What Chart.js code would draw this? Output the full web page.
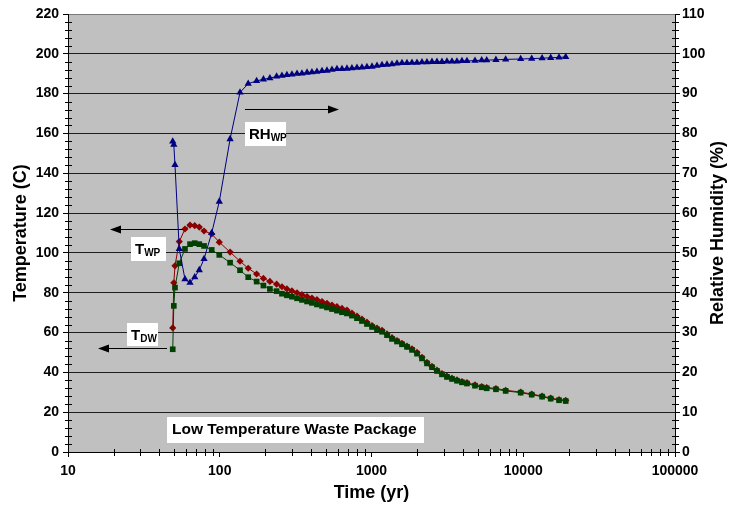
<!DOCTYPE html>
<html>
<head>
<meta charset="utf-8">
<title>Low Temperature Waste Package</title>
<script src="https://cdn.jsdelivr.net/npm/chart.js@4.4.0/dist/chart.umd.min.js"></script>
<style>
  html, body { margin: 0; padding: 0; background: #fff; }
  #chart { display: block; }
</style>
</head>
<body>
<canvas id="chart" width="729" height="508"></canvas>
<script>
// time after emplacement (yr), shared by all three series
const years = [
  49.0, 49.8, 50.7, 54.1, 59.0, 63.7, 68.4, 73.3, 78.8, 88.5,
  99.3, 117, 136, 154, 175, 194, 214, 237, 257, 277,
  299, 323, 348, 376, 405, 437, 472, 509, 549, 592,
  639, 689, 743, 802, 865, 933, 1008, 1087, 1173, 1265,
  1365, 1472, 1588, 1713, 1848, 1994, 2151, 2320, 2503, 2700,
  2913, 3142, 3390, 3657, 3945, 4256, 4808, 5322, 5743, 6607,
  7657, 9617, 11370, 13310, 15170, 17210, 19050
];

// waste package temperature (C)
const tempWP = [
  62.3, 85, 93.5, 105.7, 112, 114, 113.7, 113, 111, 109.5,
  105.4, 100.4, 95.8, 92.3, 89.4, 87.2, 85.7, 84.3, 83.0, 81.9,
  80.9, 80.0, 79.0, 78.1, 77.3, 76.5, 75.6, 74.7, 73.8, 73.0,
  72.1, 71.3, 69.8, 68.3, 66.8, 65.2, 63.5, 62.2, 61.1, 59.3,
  57.4, 56.0, 54.6, 53.2, 51.8, 50.0, 47.6, 45.0, 43.0, 41.1,
  39.4, 38.1, 37.1, 36.2, 35.4, 34.8, 33.7, 32.9, 32.4, 31.9,
  31.0, 30.1, 29.1, 28.1, 27.1, 26.3, 25.9
];

// drift wall temperature (C)
const tempDW = [
  51.6, 73.4, 82.6, 94.8, 102, 104.4, 104.9, 104.4, 103.5, 101.5,
  99, 95.1, 91.3, 87.8, 85.6, 83.6, 81.9, 80.8, 79.5, 78.7,
  78.0, 77.2, 76.4, 75.6, 74.9, 74.1, 73.4, 72.6, 71.8, 71.0,
  70.2, 69.6, 68.5, 67.2, 65.8, 64.3, 62.8, 61.6, 60.4, 58.7,
  56.8, 55.5, 54.1, 52.8, 51.3, 49.4, 47.0, 44.5, 42.6, 40.7,
  39.0, 37.7, 36.7, 35.8, 35.0, 34.4, 33.3, 32.5, 32.0, 31.5,
  30.7, 29.8, 28.8, 27.8, 26.8, 26.0, 25.6
];

// relative humidity at the waste package (%)
const rhWP = [
  78.0, 77.2, 72.1, 51, 43.4, 42.5, 43.9, 45.7, 48.5, 55,
  62.9, 78.6, 90.3, 92.5, 93.2, 93.6, 93.9, 94.3, 94.5, 94.7,
  94.8, 95.0, 95.1, 95.3, 95.4, 95.5, 95.7, 95.8, 96.0, 96.2,
  96.2, 96.3, 96.4, 96.5, 96.6, 96.7, 96.8, 97.0, 97.2, 97.3,
  97.4, 97.6, 97.7, 97.7, 97.8, 97.8, 97.9, 97.9, 98.0, 98.0,
  98.0, 98.1, 98.1, 98.1, 98.2, 98.2, 98.3, 98.4, 98.4, 98.5,
  98.6, 98.7, 98.8, 98.9, 99.0, 99.1, 99.2
];

const timeTicks = [10, 100, 1000, 10000, 100000];

const FONT = "Arial, 'Liberation Sans', sans-serif";

function toPoints(values) {
  return years.map((t, i) => ({ x: t, y: values[i] }));
}

// grey plot area on a white page
const paperPlugin = {
  id: "paper",
  beforeDraw(chart) {
    const { ctx, chartArea: a } = chart;
    ctx.save();
    ctx.fillStyle = "#ffffff";
    ctx.fillRect(0, 0, chart.width, chart.height);
    ctx.fillStyle = "#c0c0c0";
    ctx.fillRect(a.left, a.top, a.right - a.left, a.bottom - a.top);
    ctx.restore();
  },
};

// small cross ticks between the labelled ones
const minorTickPlugin = {
  id: "minorTicks",
  afterDraw(chart) {
    const { ctx, chartArea: a, scales } = chart;
    ctx.save();
    ctx.strokeStyle = "#000";
    ctx.lineWidth = 1;
    ctx.beginPath();
    for (let d = 10; d < 100000; d *= 10) {
      for (let k = 2; k <= 9; k++) {
        const x = Math.round(scales.x.getPixelForValue(k * d)) + 0.5;
        ctx.moveTo(x, a.bottom - 3);
        ctx.lineTo(x, a.bottom + 4);
      }
    }
    for (let v = 4; v < 220; v += 4) {
      if (v % 20 === 0) continue;
      const y = Math.round(scales.y.getPixelForValue(v)) + 0.5;
      ctx.moveTo(a.left - 3, y);
      ctx.lineTo(a.left + 4, y);
    }
    for (let v = 2; v < 110; v += 2) {
      if (v % 10 === 0) continue;
      const y = Math.round(scales.y2.getPixelForValue(v)) + 0.5;
      ctx.moveTo(a.right - 3, y);
      ctx.lineTo(a.right + 4, y);
    }
    ctx.stroke();
    ctx.restore();
  },
};

function drawArrow(ctx, fromX, tipX, y) {
  const dir = Math.sign(tipX - fromX);
  ctx.beginPath();
  ctx.moveTo(fromX, y + 0.5);
  ctx.lineTo(tipX - dir * 8, y + 0.5);
  ctx.stroke();
  ctx.beginPath();
  ctx.moveTo(tipX, y + 0.5);
  ctx.lineTo(tipX - dir * 11, y - 3.5);
  ctx.lineTo(tipX - dir * 11, y + 4.5);
  ctx.closePath();
  ctx.fill();
}

function drawTag(ctx, x, y, w, h, main, sub) {
  ctx.fillStyle = "#ffffff";
  ctx.fillRect(x, y, w, h);
  ctx.fillStyle = "#000";
  ctx.textBaseline = "alphabetic";
  ctx.textAlign = "left";
  ctx.font = `bold 15px ${FONT}`;
  ctx.fillText(main, x + 4, y + 17);
  const mw = ctx.measureText(main).width;
  ctx.font = `bold 10px ${FONT}`;
  ctx.fillText(sub, x + 4 + mw, y + 19);
}

const notesPlugin = {
  id: "notes",
  afterDraw(chart) {
    const { ctx, chartArea: a } = chart;
    const xs = chart.scales.x;
    const yt = chart.scales.y;
    const yr = chart.scales.y2;
    const px = (t) => Math.round(xs.getPixelForValue(t));
    ctx.save();
    ctx.strokeStyle = "#000";
    ctx.fillStyle = "#000";
    ctx.lineWidth = 1;

    drawArrow(ctx, px(147), px(611), Math.round(yr.getPixelForValue(86.2)));
    drawTag(ctx, px(147), Math.round(yr.getPixelForValue(83)), 41, 24, "RH", "WP");

    ctx.fillStyle = "#000";
    drawArrow(ctx, px(57.3), px(18.9), Math.round(yt.getPixelForValue(112.1)));
    drawTag(ctx, px(26), Math.round(yt.getPixelForValue(108)), 35, 24, "T", "WP");

    ctx.fillStyle = "#000";
    drawArrow(ctx, px(44.9), px(15.8), Math.round(yt.getPixelForValue(52.1)));
    drawTag(ctx, px(24.4), Math.round(yt.getPixelForValue(65)), 31, 23, "T", "DW");

    const bx = px(45.1);
    const by = Math.round(yt.getPixelForValue(17.4));
    ctx.fillStyle = "#ffffff";
    ctx.fillRect(bx, by, 257, 26);
    ctx.fillStyle = "#000";
    ctx.font = `bold 15.5px ${FONT}`;
    ctx.textBaseline = "middle";
    ctx.fillText("Low Temperature Waste Package", bx + 5, by + 13);

    // right axis title reads bottom to top, like the left one
    ctx.translate(718, (a.top + a.bottom) / 2);
    ctx.rotate(-Math.PI / 2);
    ctx.textAlign = "center";
    ctx.textBaseline = "middle";
    ctx.font = `bold 18px ${FONT}`;
    ctx.fillText("Relative Humidity (%)", 0, 0);
    ctx.restore();
  },
};

const tickFont = { family: FONT, size: 14, weight: "bold" };

new Chart(document.getElementById("chart"), {
  type: "line",
  data: {
    datasets: [
      {
        label: "RH WP",
        data: toPoints(rhWP),
        yAxisID: "y2",
        borderColor: "#000080",
        backgroundColor: "#000080",
        borderWidth: 1,
        pointStyle: "triangle",
        pointRadius: 4.2,
        pointBorderWidth: 0,
        order: 0,
      },
      {
        label: "T DW",
        data: toPoints(tempDW),
        yAxisID: "y",
        borderColor: "#004000",
        backgroundColor: "#004000",
        borderWidth: 1,
        pointStyle: "rect",
        pointRadius: 4,
        pointBorderWidth: 0,
        order: 1,
      },
      {
        label: "T WP",
        data: toPoints(tempWP),
        yAxisID: "y",
        borderColor: "#8b0000",
        backgroundColor: "#8b0000",
        borderWidth: 1,
        pointStyle: "rectRot",
        pointRadius: 3.6,
        pointBorderWidth: 0,
        order: 2,
      },
    ],
  },
  options: {
    responsive: false,
    devicePixelRatio: 1,
    animation: false,
    layout: { padding: { top: 14, left: 0, right: 0, bottom: 0 } },
    plugins: {
      legend: { display: false },
      tooltip: { enabled: false },
    },
    scales: {
      x: {
        type: "logarithmic",
        position: "bottom",
        min: 10,
        max: 100000,
        afterBuildTicks: (scale) => {
          scale.ticks = timeTicks.map((v) => ({ value: v, major: true }));
        },
        afterFit: (scale) => { scale.height = 56; },
        ticks: {
          autoSkip: false,
          maxRotation: 0,
          color: "#000",
          font: tickFont,
          padding: 6,
          callback: (v) => String(v),
        },
        grid: { drawOnChartArea: false, tickLength: 5, tickColor: "#000" },
        border: { color: "#000", width: 1 },
        title: {
          display: true,
          text: "Time (yr)",
          color: "#000",
          font: { family: FONT, size: 18, weight: "bold" },
          padding: { top: 0, bottom: 4 },
        },
      },
      y: {
        position: "left",
        min: 0,
        max: 220,
        afterFit: (scale) => { scale.width = 68; },
        ticks: { stepSize: 20, color: "#000", font: tickFont, padding: 4 },
        grid: {
          color: (c) => (c.tick && c.tick.value === 220 ? "#7a7a7a" : "#1e1e1e"),
          tickLength: 5,
          tickColor: "#000",
        },
        border: { color: "#000", width: 1 },
        title: {
          display: true,
          text: "Temperature (C)",
          color: "#000",
          font: { family: FONT, size: 18, weight: "bold" },
          padding: { top: 10, bottom: 0 },
        },
      },
      y2: {
        position: "right",
        min: 0,
        max: 110,
        afterFit: (scale) => { scale.width = 54; },
        ticks: { stepSize: 10, color: "#000", font: tickFont, padding: 2 },
        grid: { drawOnChartArea: false, tickLength: 5, tickColor: "#000" },
        border: { color: "#000", width: 1 },
      },
    },
  },
  plugins: [paperPlugin, minorTickPlugin, notesPlugin],
});
</script>
</body>
</html>
